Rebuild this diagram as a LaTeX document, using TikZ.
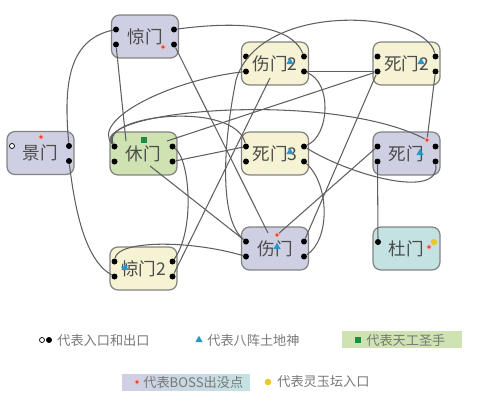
\documentclass[tikz,border=0pt]{standalone}
\usepackage{fontspec}
\setmainfont{Noto Sans CJK SC}
\usepackage{tikz}
\usetikzlibrary{shapes,shapes.geometric,arrows,positioning}

\definecolor{GatePurple}{RGB}{207,207,227}
\definecolor{GateYellow}{RGB}{246,243,212}
\definecolor{GateGreen}{RGB}{206,226,178}
\definecolor{GateTeal}{RGB}{196,226,226}
\definecolor{GateLine}{RGB}{130,130,130}
\definecolor{GateText}{RGB}{75,75,75}
\definecolor{LinkGray}{RGB}{95,95,95}
\definecolor{BossRed}{RGB}{220,70,60}
\definecolor{GodBlue}{RGB}{40,150,200}
\definecolor{MasterGreen}{RGB}{30,140,70}
\definecolor{AltarYellow}{RGB}{235,200,40}
\definecolor{LegendText}{RGB}{120,120,120}

\begin{document}
\begin{tikzpicture}[x=0.02cm, y=-0.02cm]
			\tikzstyle{Gate}	= [rectangle, rounded corners=4.5pt, draw=GateLine, line width=0.7pt, minimum width=1.34cm, minimum height=0.86cm, inner sep=0pt, text=GateText, font=\fontsize{10}{11}\selectfont]
			\tikzstyle{Purple}	= [fill=GatePurple]
			\tikzstyle{Yellow}	= [fill=GateYellow]
			\tikzstyle{Green}	= [fill=GateGreen]
			\tikzstyle{Teal}	= [fill=GateTeal]
			\tikzstyle{Port}	= [circle, fill=black, minimum size=1.2mm, inner sep=0pt]
			\tikzstyle{Entry}	= [circle, draw=black, fill=white, line width=0.4pt, minimum size=1mm, inner sep=0pt]
			\tikzstyle{Boss}	= [circle, fill=BossRed, draw=BossRed!35, line width=0.6pt, minimum size=0.9mm, inner sep=0pt]
			\tikzstyle{God}		= [regular polygon, regular polygon sides=3, fill=GodBlue, minimum size=1.7mm, inner sep=0pt]
			\tikzstyle{Master}	= [rectangle, fill=MasterGreen, minimum size=1.2mm, inner sep=0pt]
			\tikzstyle{Altar}	= [circle, fill=AltarYellow, minimum size=1.3mm, inner sep=0pt]
			\tikzstyle{Legend}	= [text=LegendText, font=\fontsize{7.5}{8}\selectfont, inner sep=0pt]
			\tikzstyle{Link}	= [draw=LinkGray, line width=0.6pt]

			\useasboundingbox (0,0) rectangle (500,409);

			% the ten gates
			\node (jing1) at (145,36.5) [Gate][Purple] {惊门};
			\node (jingmen) at (40.5,153) [Gate][Purple] {景门};
			\node (xiu) at (143.5,153.5) [Gate][Green] {休门};
			\node (shang2) at (275,63.5) [Gate][Yellow] {伤门2};
			\node (si2) at (406.5,63.5) [Gate][Yellow] {死门2};
			\node (si3) at (275,153.5) [Gate][Yellow] {死门3};
			\node (si) at (406.5,153.5) [Gate][Purple] {死门};
			\node (shang) at (275,248.5) [Gate][Purple] {伤门};
			\node (jing2) at (143.5,268.5) [Gate][Yellow] {惊门2};
			\node (du) at (406.5,248.5) [Gate][Teal] {杜门};

			% entrances and exits
			\foreach \g/\x/\y in {jing1/145/36.5, xiu/143.5/153.5, shang2/275/63.5, si2/406.5/63.5, si3/275/153.5, si/406.5/153.5, shang/275/248.5, jing2/143.5/268.5} {
				\node (\g-lt) at (\x-29,\y-7) [Port] {};
				\node (\g-lb) at (\x-29,\y+8) [Port] {};
				\node (\g-rt) at (\x+29,\y-7) [Port] {};
				\node (\g-rb) at (\x+29,\y+8) [Port] {};
			}
			\node (jingmen-rt) at (69,146) [Port] {};
			\node (jingmen-rb) at (69,161) [Port] {};
			\node (jingmen-in) at (12,146) [Entry] {};
			\node (du-lt) at (378,242) [Port] {};

			% markers
			\node (jing1Boss) at (163,47) [Boss] {};
			\node (jingmenBoss) at (41,137) [Boss] {};
			\node (xiuMaster) at (144,140) [Master] {};
			\node (shang2God) at (290,62) [God] {};
			\node (si2God) at (421,62) [God] {};
			\node (si3God) at (290,152) [God] {};
			\node (siBoss) at (427,140) [Boss] {};
			\node (siGod) at (420,153) [God] {};
			\node (shangBoss) at (277,235) [Boss] {};
			\node (shangGod) at (277,247) [God] {};
			\node (jing2God) at (125,268) [God] {};
			\node (duAltar) at (434,242) [Altar] {};
			\node (duBoss) at (429,247) [Boss] {};

			\coordinate (xiu-top) at (126,141);
			\coordinate (xiu-tr) at (167,141);
			\coordinate (xiu-low) at (150,166);
			\coordinate (shang-top) at (268,233);
			\coordinate (shang2-low) at (270,78);

			% straight passages
			\draw [-] (jing1-lb) to (xiu-top) [Link];
			\draw [-] (jing1-rb) to (shang-top) [Link];
			\draw [-] (shang2-rb) to (si2-lb) [Link];
			\draw [-] (si2-rb) to (siBoss) [Link];
			\draw [-] (si2-lb) to (xiu-tr) [Link];
			\draw [-] (si2-lb) to (shang-rt) [Link];
			\draw [-] (xiu-rb) to (si3-lt) [Link];
			\draw [-] (xiu-low) to (shang-lt) [Link];
			\draw [-] (si-lt) to (shangBoss) [Link];
			\draw [-] (si-lb) to (du-lt) [Link];
			\draw [-] (jing2-rb) to (shang2-low) [Link];

			% curved passages
			\draw [Link] (jing1-lt) .. controls (66,40) and (64,90) .. (jingmen-rt);
			\draw [Link] (jing1-rt) .. controls (230,22) and (290,22) .. (shang2-rt);
			\draw [Link] (shang2-rb) .. controls (332,82) and (330,135) .. (si3-rt);
			\draw [Link] (shang2-lb) .. controls (170,80) and (90,120) .. (xiu-lt);
			\draw [Link] (si2-rt) .. controls (425,10) and (260,0) .. (236,80) .. controls (222,150) and (220,220) .. (shang-lt);
			\draw [Link] (xiu-lt) .. controls (90,110) and (330,90) .. (siBoss);
			\draw [Link] (xiu-lt) .. controls (100,115) and (235,100) .. (si3-lt);
			\draw [Link] (si3-rt) .. controls (350,175) and (440,200) .. (si-rb);
			\draw [Link] (si3-rb) .. controls (330,185) and (330,240) .. (shang-rb);
			\draw [Link] (jingmen-rb) .. controls (75,210) and (85,260) .. (jing2-lb);
			\draw [Link] (jing2-lt) .. controls (118,240) and (190,240) .. (shang-lb);
			\draw [Link] (jing2-rt) .. controls (195,230) and (190,160) .. (xiu-rt);

			% legend
			\node (lgEntry) at (42,340) [Entry] {};
			\node (lgPort) at (49,340) [Port] {};
			\node (lgPortText) at (57,340) [Legend, anchor=west] {代表入口和出口};
			\node (lgGod) at (199,340) [God] {};
			\node (lgGodText) at (207,340) [Legend, anchor=west] {代表八阵土地神};
			\node (lgMasterBox) at (402,339.5) [fill=GateGreen, minimum width=2.4cm, minimum height=0.34cm, inner sep=0pt] {};
			\node (lgMaster) at (358,340) [Master] {};
			\node (lgMasterText) at (366,340) [Legend, anchor=west] {代表天工圣手};
			\node (lgBossBox) at (186,382) [left color=GatePurple, right color=GateTeal, minimum width=2.56cm, minimum height=0.32cm, inner sep=0pt] {};
			\node (lgBoss) at (137,382) [Boss] {};
			\node (lgBossText) at (143,382) [Legend, anchor=west] {代表BOSS出没点};
			\node (lgAltar) at (268,382) [Altar] {};
			\node (lgAltarText) at (277,382) [Legend, anchor=west] {代表灵玉坛入口};
		\end{tikzpicture}
\end{document}
